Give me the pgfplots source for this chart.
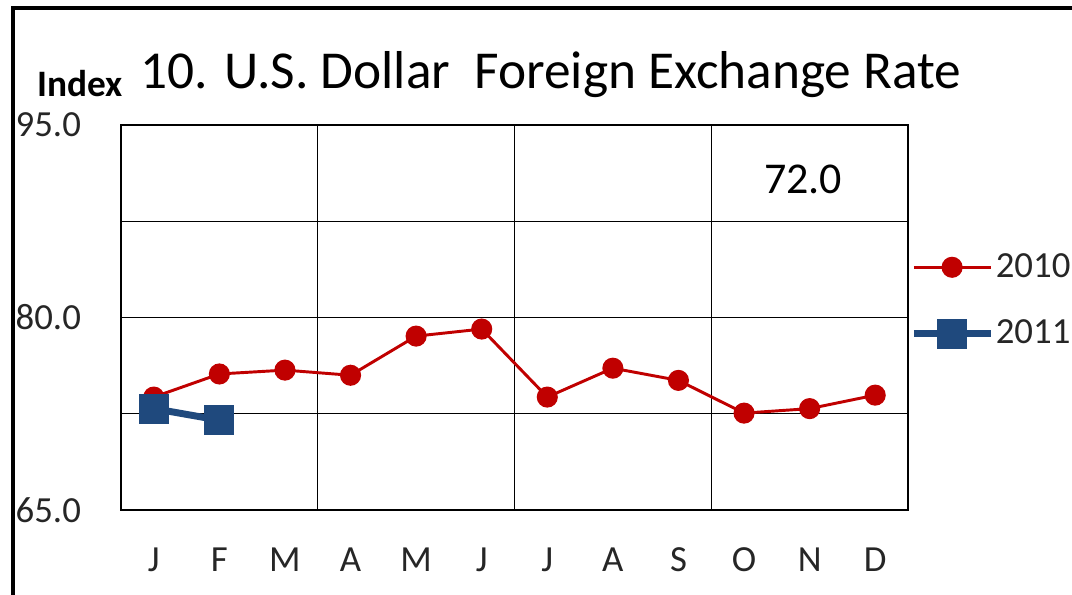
\documentclass[border=0pt]{standalone}
\usepackage{pgfplots}
\pgfplotsset{compat=1.18}
\usepackage{fontspec}
\setmainfont{Carlito}
\definecolor{cred}{RGB}{192,0,0}
\definecolor{cblue}{RGB}{31,73,125}
\begin{document}
\begin{tikzpicture}
\clip (0,0) rectangle (402pt,222.75pt);
\useasboundingbox (0,0) rectangle (402pt,222.75pt);
% frame (cut off at right and bottom)
\draw[line width=1.35pt] (4.875pt,-5pt) -- (4.875pt,219.75pt) -- (410pt,219.75pt);
\node[anchor=base west, inner sep=0pt, font=\fontsize{20}{22}\selectfont] at (52.5pt,189.5pt) {10. U.S. Dollar\ \ Foreign Exchange Rate};
\node[anchor=base west, inner sep=0pt, font=\bfseries\fontsize{14}{16}\selectfont] at (13.9pt,186.4pt) {Index};
\begin{axis}[at={(45.375pt,31.5pt)}, anchor=south west, scale only axis,
  width=295.125pt, height=144.375pt,
  xmin=0, xmax=12, ymin=65, ymax=95,
  xtick={0.5,1.5,2.5,3.5,4.5,5.5,6.5,7.5,8.5,9.5,10.5,11.5},
  xticklabels={J,F,M,A,M,J,J,A,S,O,N,D},
  ytick={65,80,95}, yticklabels={65.0,80.0,95.0},
  extra x ticks={3,6,9}, extra x tick labels={},
  extra x tick style={xmajorgrids=true},
  extra y ticks={72.5,87.5}, extra y tick labels={},
  ymajorgrids=true,
  grid style={black, line width=0.55pt},
  major tick length=0pt,
  axis line style={black, line width=0.7pt},
  tick label style={font=\fontsize{13.8}{16}\selectfont, text=black!85},
  yticklabel style={xshift=-11.5pt},
  xticklabel style={yshift=-10.5pt},
  legend style={at={(1.0025,0.544)}, anchor=west, draw=none, fill=none,
    inner sep=0pt, row sep=13.5pt, column sep=0pt,
    font=\fontsize{13.8}{16}\selectfont, text=black!85,
    nodes={inner sep=0.5pt}},
  legend cell align=left,
  legend image code/.code={\draw[#1, mark repeat=2, mark phase=2] plot coordinates {(0pt,0pt) (14.3pt,0pt) (28.9pt,0pt)};},
  clip=false]
\addplot[cred, line width=1.1pt, mark=*, mark size=3.4pt] coordinates {(0.5,73.8) (1.5,75.6) (2.5,75.9) (3.5,75.5) (4.5,78.55) (5.5,79.1) (6.5,73.8) (7.5,76.05) (8.5,75.1) (9.5,72.55) (10.5,72.9) (11.5,73.95)};
\addlegendentry{2010}
\addplot[cblue, line width=2.6pt, mark=square*, mark size=5.4pt, mark options={line width=0.4pt}] coordinates {(0.5,72.9) (1.5,72.0)};
\addlegendentry{2011}
\node[font=\fontsize{16.5}{18}\selectfont, text=black] at (axis cs:10.4,90.8) {72.0};
\end{axis}
\end{tikzpicture}
\end{document}
